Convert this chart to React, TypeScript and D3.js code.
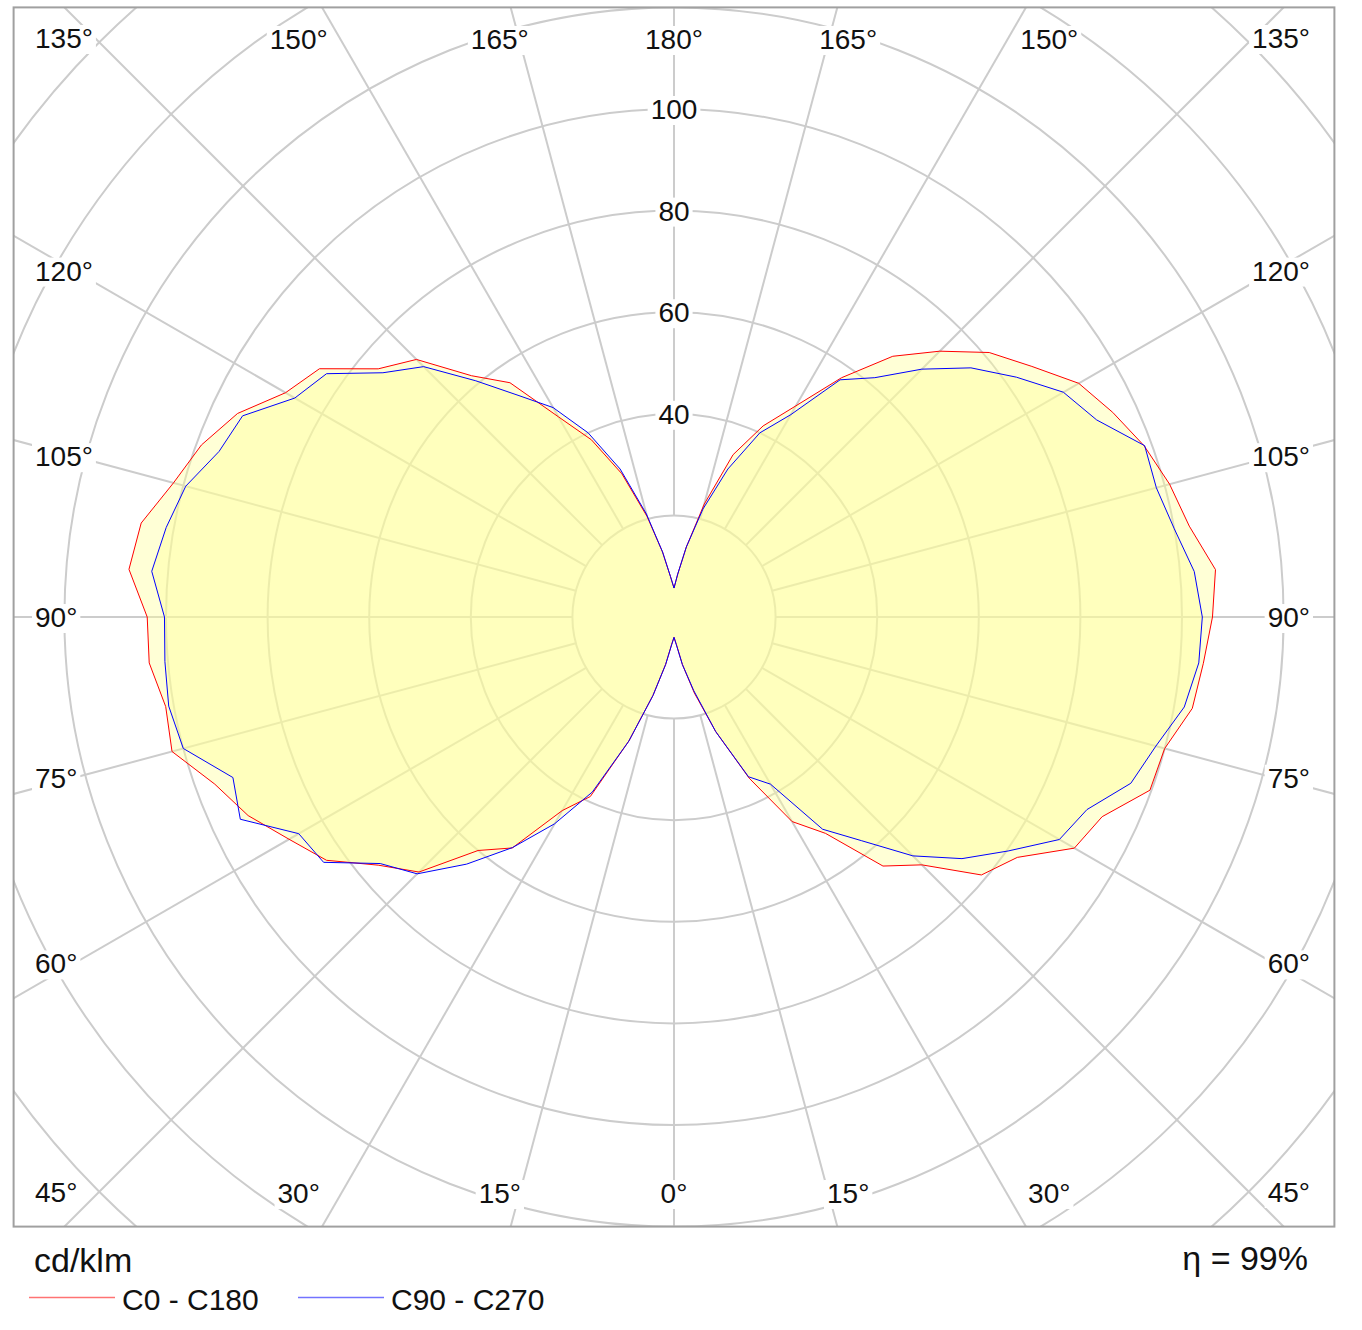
import React, { useEffect, useRef } from 'react';
import * as d3 from 'd3';

// gamma angles (degrees from nadir) of the measured points
const gammaAngles = [0, 5, 10, 15, 20, 25, 30, 35, 40, 45, 50, 55, 60, 65, 70, 75, 80, 85, 90,
  95, 100, 105, 110, 115, 120, 125, 130, 135, 140, 145, 150, 155, 160, 165, 170, 175, 180];

// cd/klm, right half of the red curve
const c0Values = [4, 5.5, 9.5, 15.5, 24, 35, 46.5, 52, 64, 69, 79, 82.5, 91, 93, 99.7, 100, 103.6, 104.6, 106,
  107, 103, 101, 98.5, 95.3, 92, 86, 81, 74, 67, 57.5, 48, 41.5, 34, 23, 14, 8.5, 5.7];
// cd/klm, left half of the red curve
const c180Values = [4, 5.5, 9.5, 16, 26, 39, 44, 55.5, 60, 71, 76, 83.5, 87.5, 92.5, 96.2, 102.3, 101.6, 103.7, 103.7,
  107.7, 106.5, 102, 99, 94.8, 88.3, 85.2, 76, 71.7, 62, 56.3, 45.5, 38.5, 30, 20.5, 13, 8, 5.7];
// cd/klm, right half of the blue curve
const c90Values = [4, 5.5, 9.5, 15, 24, 34.7, 38, 51, 57.5, 66.5, 74, 80.3, 87.6, 89.7, 95.7, 98.2, 102, 103.7, 104,
  102.8, 100, 98.3, 98.6, 91.8, 88.5, 82.3, 76.3, 69, 61.5, 57, 46, 40, 31, 22, 14, 8.5, 5.7];
// cd/klm, left half of the blue curve
const c270Values = [4, 5.5, 9.5, 16, 26, 38, 47, 55.4, 63.5, 71.5, 75.5, 84.2, 85.3, 94.2, 92.4, 100, 101, 100.6, 100.3,
  103.2, 101.5, 99.5, 95.3, 93.7, 86.2, 83.5, 74.8, 69.7, 60.7, 53.2, 47.6, 40, 31, 21, 13, 8, 5.7];

const ringValues = [20, 40, 60, 80, 100, 120, 140, 160, 180];
const ringLabels = [40, 60, 80, 100];
const spokeAngles = [0, 15, 30, 45, 60, 75, 90, 105, 120, 135, 150, 165, 180];

const legendItems = [
  { label: 'C0 - C180', color: '#ff0000' },
  { label: 'C90 - C270', color: '#0000ff' },
];
const unitLabel = 'cd/klm';
const efficiencyLabel = 'η = 99%';

const FONT = '"Liberation Sans", Arial, sans-serif';

const App: React.FC = () => {
  const ref = useRef<SVGSVGElement | null>(null);

  useEffect(() => {
    if (!ref.current) return;
    const svg = d3.select(ref.current);
    svg.selectAll('*').remove();

    const cx = 674;
    const cy = 617;
    const rad = Math.PI / 180;
    const r = d3.scaleLinear().domain([0, 120]).range([0, 609.6]);

    const x0 = cx - r(130), x1 = cx + r(130);
    const y0 = cy - r(120), y1 = cy + r(120);

    svg.append('rect').attr('width', 1362).attr('height', 1330).attr('fill', '#fff');

    svg.append('defs').append('clipPath').attr('id', 'plotClip')
      .append('rect').attr('x', x0).attr('y', y0).attr('width', x1 - x0).attr('height', y1 - y0);

    const plot = svg.append('g').attr('clip-path', 'url(#plotClip)');

    // grid rings
    plot.selectAll('circle.ring').data(ringValues).enter().append('circle')
      .attr('class', 'ring')
      .attr('cx', cx).attr('cy', cy).attr('r', d => r(d))
      .attr('fill', 'none').attr('stroke', '#cccccc').attr('stroke-width', 2);

    // spokes, both halves
    const spokes: { g: number; side: number }[] = [];
    spokeAngles.forEach(g => { spokes.push({ g, side: 1 }); spokes.push({ g, side: -1 }); });
    plot.selectAll('line.spoke').data(spokes).enter().append('line')
      .attr('x1', d => cx + d.side * r(20) * Math.sin(d.g * rad))
      .attr('y1', d => cy + r(20) * Math.cos(d.g * rad))
      .attr('x2', d => cx + d.side * r(220) * Math.sin(d.g * rad))
      .attr('y2', d => cy + r(220) * Math.cos(d.g * rad))
      .attr('stroke', '#cccccc').attr('stroke-width', 2);

    // photometric curves
    const buildCurve = (right: number[], left: number[]) => {
      const pts: [number, number][] = [];
      gammaAngles.forEach((g, i) => pts.push([Math.PI - g * rad, r(right[i])]));
      for (let i = gammaAngles.length - 1; i >= 0; i--) {
        pts.push([Math.PI + gammaAngles[i] * rad, r(left[i])]);
      }
      return pts;
    };
    const radial = d3.lineRadial<[number, number]>()
      .angle(d => d[0]).radius(d => d[1]).curve(d3.curveLinearClosed);

    const curves = [
      { pts: buildCurve(c0Values, c180Values), color: legendItems[0].color },
      { pts: buildCurve(c90Values, c270Values), color: legendItems[1].color },
    ];
    const cg = plot.append('g').attr('transform', `translate(${cx},${cy})`);
    curves.forEach(c => {
      cg.append('path').attr('d', radial(c.pts) as string)
        .attr('fill', '#ffff99').attr('fill-opacity', 0.4).attr('stroke', 'none');
    });
    curves.forEach(c => {
      cg.append('path').attr('d', radial(c.pts) as string)
        .attr('fill', 'none').attr('stroke', c.color).attr('stroke-width', 1)
        .attr('stroke-linejoin', 'round');
    });

    // labels with white background
    const labelLayer = svg.append('g');
    const addLabel = (text: string, x: number, y: number, anchor: string, size: number) => {
      const g = labelLayer.append('g');
      const t = g.append('text')
        .attr('x', x).attr('y', y)
        .attr('text-anchor', anchor)
        .attr('font-family', FONT).attr('font-size', size)
        .attr('fill', '#111')
        .text(text);
      const bb = (t.node() as SVGTextElement).getBBox();
      g.insert('rect', 'text')
        .attr('x', bb.x - 3).attr('y', bb.y + 2)
        .attr('width', bb.width + 6).attr('height', bb.height - 2)
        .attr('fill', '#fff');
    };

    // radial value labels
    ringLabels.forEach(v => addLabel(String(v), cx, cy - r(v) + 10, 'middle', 28));

    // angle labels around the frame
    const topBase = 49, bottomBase = 1203;
    spokeAngles.forEach(g => {
      [1, -1].forEach(side => {
        if ((g === 0 || g === 180) && side === -1) return;
        const label = `${g}°`;
        if (g < 45 || g > 135) {
          const delta = g < 45 ? g : 180 - g;
          const x = cx + side * 650 * Math.tan(delta * rad);
          addLabel(label, x, g < 45 ? bottomBase : topBase, 'middle', 28);
        } else {
          const yc = Math.max(38, Math.min(1192, cy + 600 * Math.cos(g * rad) / Math.sin(g * rad)));
          addLabel(label, side === -1 ? 35 : 1310, yc + 10, side === -1 ? 'start' : 'end', 28);
        }
      });
    });

    // frame
    svg.append('rect')
      .attr('x', x0).attr('y', y0).attr('width', x1 - x0).attr('height', y1 - y0)
      .attr('fill', 'none').attr('stroke', '#a0a0a0').attr('stroke-width', 2);

    // units, efficiency
    svg.append('text').attr('x', 34).attr('y', 1272)
      .attr('font-family', FONT).attr('font-size', 34).attr('fill', '#111').text(unitLabel);
    svg.append('text').attr('x', 1308).attr('y', 1270).attr('text-anchor', 'end')
      .attr('font-family', FONT).attr('font-size', 34).attr('fill', '#111').text(efficiencyLabel);

    // legend
    const legendX = [29, 298];
    legendItems.forEach((item, i) => {
      svg.append('line')
        .attr('x1', legendX[i]).attr('x2', legendX[i] + 86)
        .attr('y1', 1297.5).attr('y2', 1297.5)
        .attr('stroke', item.color).attr('stroke-opacity', 0.55).attr('stroke-width', 1.5);
      svg.append('text').attr('x', legendX[i] + 93).attr('y', 1310)
        .attr('font-family', FONT).attr('font-size', 30).attr('fill', '#111').text(item.label);
    });
  }, []);

  return (
    <svg ref={ref} width={1362} height={1330}
      style={{ position: 'absolute', left: 0, top: 0, display: 'block' }} />
  );
};

export default App;
